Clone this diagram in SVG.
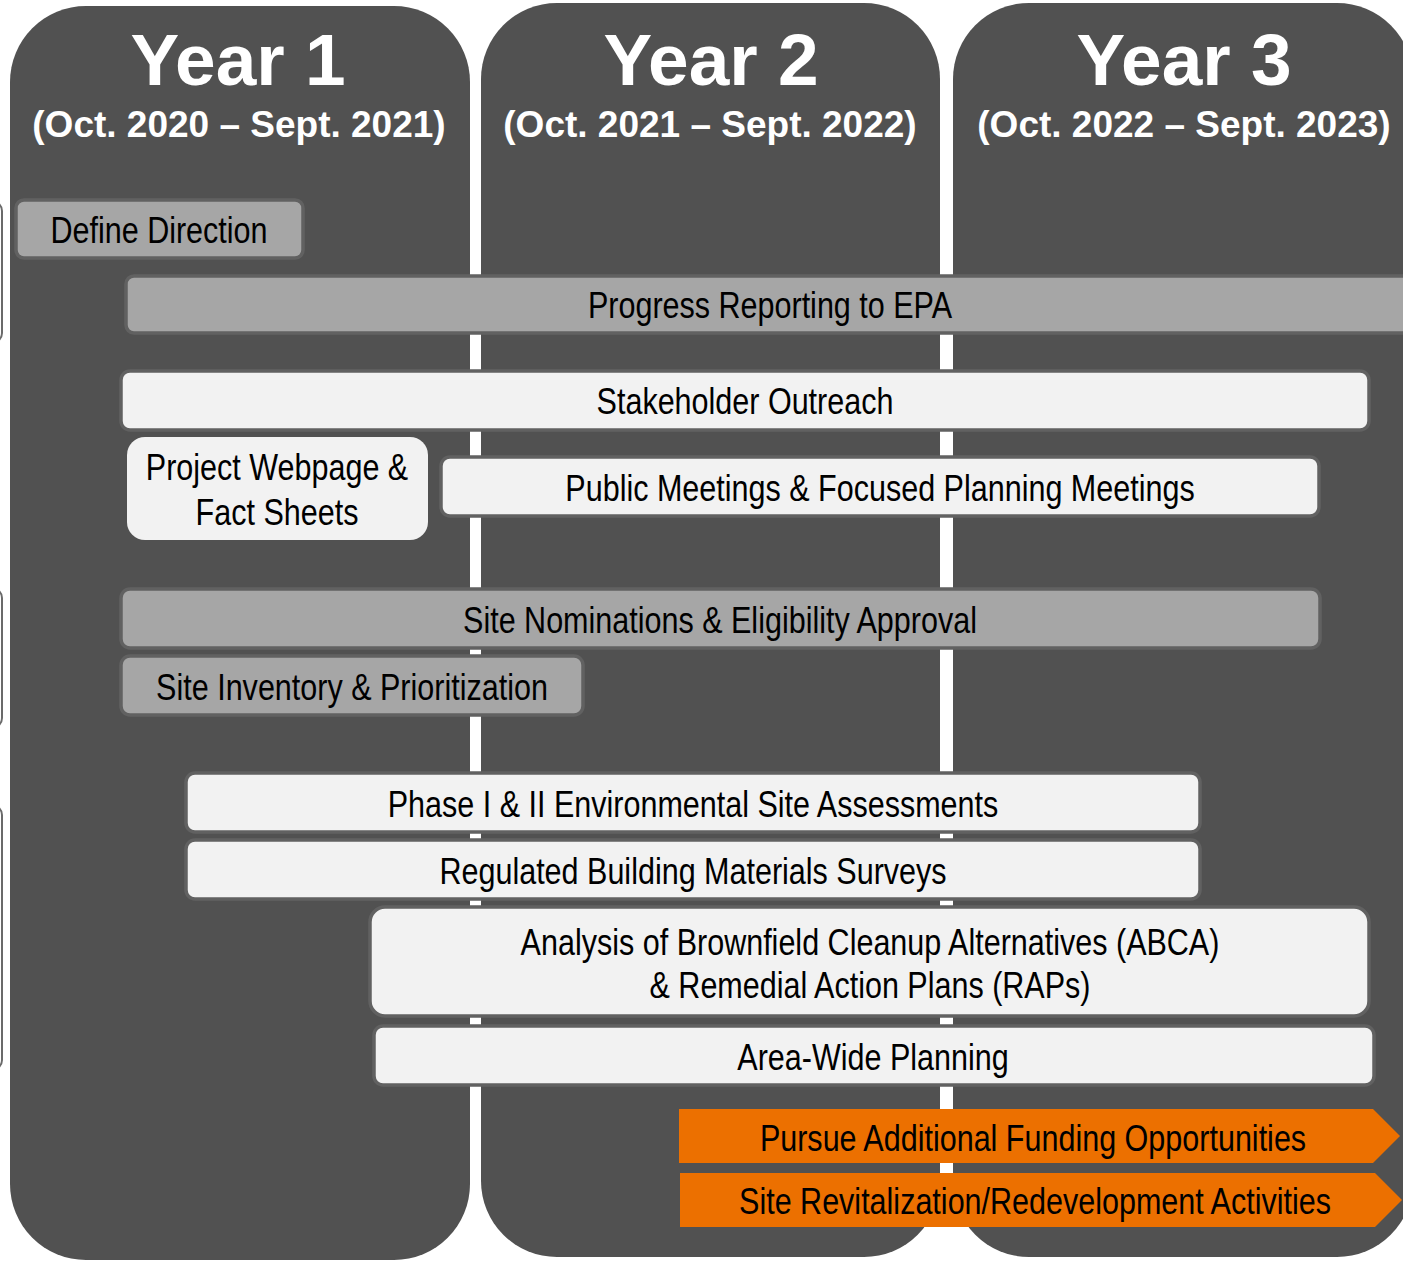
<svg xmlns="http://www.w3.org/2000/svg" width="1403" height="1261" viewBox="0 0 1403 1261">
<style>
.col{fill:#515151}
.hdr{font-family:"Liberation Sans",Arial,sans-serif;font-weight:bold;fill:#ffffff;text-anchor:middle}
.yr{font-size:73px}
.sub{font-size:37px}
.bar{stroke:#616161;stroke-width:3.5}
.lt{fill:#f2f2f2}
.md{fill:#a6a6a6}
.or{fill:#ec7000}
.t{font-family:"Liberation Sans Narrow","Arial Narrow","Liberation Sans",sans-serif;font-size:37px;fill:#000000;text-anchor:middle}
.edge{fill:#ffffff;stroke:#6a6a6a;stroke-width:2}
</style>
<rect width="1403" height="1261" fill="#ffffff"/>
<g id="edges">
<rect class="edge" x="-40" y="201" width="42" height="142" rx="10"/>
<rect class="edge" x="-40" y="588" width="42" height="140" rx="10"/>
<rect class="edge" x="-40" y="805" width="42" height="265" rx="10"/>
</g>
<g id="year1">
<rect class="col" x="10" y="6" width="460" height="1254" rx="76"/>
<text class="hdr yr" x="238" y="85">Year 1</text>
<text class="hdr sub" x="239" y="137">(Oct. 2020 – Sept. 2021)</text>
</g>
<g id="year2">
<rect class="col" x="481" y="3" width="459" height="1254" rx="76"/>
<text class="hdr yr" x="711" y="85">Year 2</text>
<text class="hdr sub" x="710" y="137">(Oct. 2021 – Sept. 2022)</text>
</g>
<g id="year3">
<rect class="col" x="953" y="3" width="460" height="1254" rx="76"/>
<text class="hdr yr" x="1184" y="85">Year 3</text>
<text class="hdr sub" x="1184" y="137">(Oct. 2022 – Sept. 2023)</text>
</g>
<g id="define-direction">
<rect class="bar md" x="16" y="200" width="287" height="58" rx="8"/>
<text class="t" transform="translate(159,243) scale(0.825,1)">Define Direction</text>
</g>
<g id="progress-reporting">
<rect class="bar md" x="126" y="276" width="1300" height="57" rx="8"/>
<text class="t" transform="translate(770,318) scale(0.825,1)">Progress Reporting to EPA</text>
</g>
<g id="stakeholder-outreach">
<rect class="bar lt" x="121" y="371" width="1248" height="59" rx="9"/>
<text class="t" transform="translate(745,414) scale(0.825,1)">Stakeholder Outreach</text>
</g>
<g id="project-webpage">
<rect class="lt" x="127" y="437" width="301" height="103" rx="18"/>
<text class="t" transform="translate(277,480) scale(0.825,1)">Project Webpage &amp;</text>
<text class="t" transform="translate(277,525) scale(0.825,1)">Fact Sheets</text>
</g>
<g id="public-meetings">
<rect class="bar lt" x="441" y="457" width="878" height="59" rx="9"/>
<text class="t" transform="translate(880,501) scale(0.825,1)">Public Meetings &amp; Focused Planning Meetings</text>
</g>
<g id="site-nominations">
<rect class="bar md" x="121" y="589" width="1199" height="59" rx="9"/>
<text class="t" transform="translate(720,633) scale(0.825,1)">Site Nominations &amp; Eligibility Approval</text>
</g>
<g id="site-inventory">
<rect class="bar md" x="121" y="656" width="462" height="59" rx="9"/>
<text class="t" transform="translate(352,700) scale(0.825,1)">Site Inventory &amp; Prioritization</text>
</g>
<g id="phase-esa">
<rect class="bar lt" x="186" y="773" width="1014" height="59" rx="9"/>
<text class="t" transform="translate(693,817) scale(0.825,1)">Phase I &amp; II Environmental Site Assessments</text>
</g>
<g id="rbms">
<rect class="bar lt" x="186" y="840" width="1014" height="59" rx="9"/>
<text class="t" transform="translate(693,884) scale(0.825,1)">Regulated Building Materials Surveys</text>
</g>
<g id="abca">
<rect class="bar lt" x="370" y="907" width="999" height="109" rx="15"/>
<text class="t" transform="translate(870,955) scale(0.825,1)">Analysis of Brownfield Cleanup Alternatives (ABCA)</text>
<text class="t" transform="translate(870,998) scale(0.825,1)">&amp; Remedial Action Plans (RAPs)</text>
</g>
<g id="area-wide">
<rect class="bar lt" x="374" y="1026" width="1000" height="59" rx="9"/>
<text class="t" transform="translate(873,1070) scale(0.825,1)">Area-Wide Planning</text>
</g>
<g id="funding">
<polygon class="or" points="679,1109 1373,1109 1400,1136 1373,1163 679,1163"/>
<text class="t" transform="translate(1033,1151) scale(0.825,1)">Pursue Additional Funding Opportunities</text>
</g>
<g id="revitalization">
<polygon class="or" points="680,1173 1375,1173 1402,1200 1375,1227 680,1227"/>
<text class="t" transform="translate(1035,1214) scale(0.825,1)">Site Revitalization/Redevelopment Activities</text>
</g>
<g id="connectors"/>
</svg>
